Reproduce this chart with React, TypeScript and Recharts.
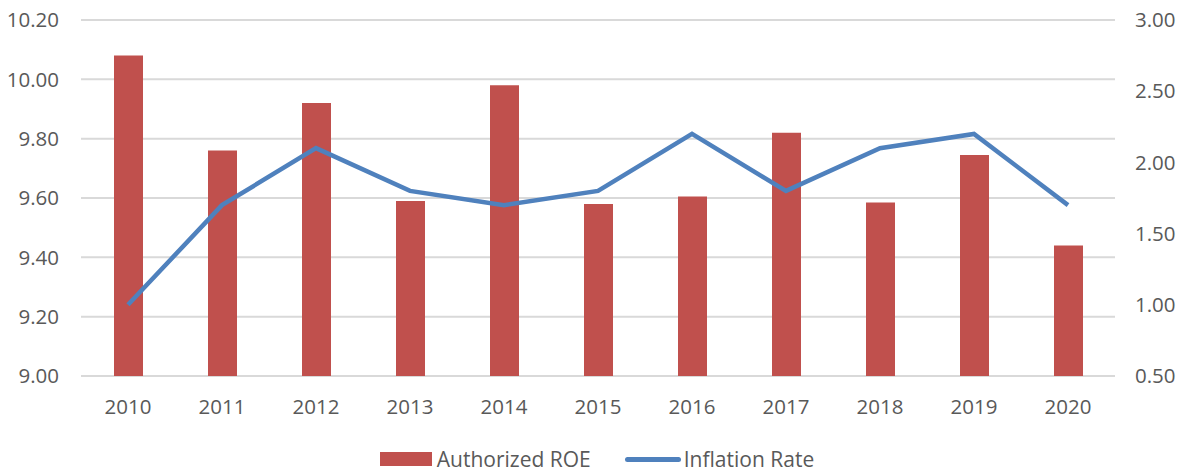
import React from 'react';
import { ComposedChart, Bar, Line, XAxis, YAxis, CartesianGrid, Legend } from 'recharts';

const years = ['2010', '2011', '2012', '2013', '2014', '2015', '2016', '2017', '2018', '2019', '2020'];
const authorizedROE = [10.08, 9.76, 9.92, 9.59, 9.98, 9.58, 9.605, 9.82, 9.585, 9.745, 9.44];
const inflationRate = [1.0, 1.7, 2.1, 1.8, 1.7, 1.8, 2.2, 1.8, 2.1, 2.2, 1.7];
const leftTicks = [9.0, 9.2, 9.4, 9.6, 9.8, 10.0, 10.2];
const rightTicks = [0.5, 1.0, 1.5, 2.0, 2.5, 3.0];

const data = years.map((y, i) => ({ year: y, roe: authorizedROE[i], inflation: inflationRate[i] }));

const FONT = '"Open Sans", sans-serif';
const TEXT = '#595959';
const BAR = '#C0504D';
const LINE = '#4F81BD';
const FS = 20.5;

const LegendContent = () => (
  <div style={{ height: 47, display: 'flex', justifyContent: 'center', alignItems: 'flex-end', fontFamily: FONT, fontSize: 21, color: TEXT }}>
    <div style={{ display: 'flex', alignItems: 'center', marginBottom: 0, marginLeft: 6 }}>
      <div style={{ width: 52, height: 14, background: BAR, marginRight: 5 }} />
      <span>Authorized ROE</span>
      <div style={{ width: 56, height: 5, borderRadius: 3, background: LINE, marginLeft: 34, marginRight: 3 }} />
      <span>Inflation Rate</span>
    </div>
  </div>
);

export default function App() {
  return (
    <div style={{ width: 1188, height: 473, margin: '-8px -8px 0 -8px' }}>
      <ComposedChart width={1188} height={473} data={data} margin={{ top: 20, right: 0, left: 0, bottom: 0 }}>
        <CartesianGrid vertical={false} stroke="#D9D9D9" strokeWidth={2} yAxisId="left" />
        <XAxis
          dataKey="year"
          axisLine={false}
          tickLine={false}
          tickSize={0}
          tickMargin={23}
          height={50}
          tick={{ fill: TEXT, fontSize: FS, fontFamily: FONT }}
          interval={0}
        />
        <YAxis
          yAxisId="left"
          orientation="left"
          domain={[9, 10.2]}
          ticks={leftTicks}
          tickFormatter={(v: number) => v.toFixed(2)}
          axisLine={false}
          tickLine={false}
          tickSize={0}
          tickMargin={22}
          width={81}
          allowDataOverflow
          tick={{ fill: TEXT, fontSize: FS, fontFamily: FONT }}
        />
        <YAxis
          yAxisId="right"
          orientation="right"
          domain={[0.5, 3]}
          ticks={rightTicks}
          tickFormatter={(v: number) => v.toFixed(2)}
          axisLine={false}
          tickLine={false}
          tickSize={0}
          tickMargin={20}
          width={73}
          tick={{ fill: TEXT, fontSize: FS, fontFamily: FONT, textAnchor: 'start' }}
        />
        <Legend verticalAlign="bottom" height={47} content={<LegendContent />} />
        <Bar yAxisId="left" dataKey="roe" name="Authorized ROE" fill={BAR} barSize={29} isAnimationActive={false} />
        <Line
          yAxisId="right"
          dataKey="inflation"
          name="Inflation Rate"
          stroke={LINE}
          strokeWidth={4.5}
          dot={false}
          activeDot={false}
          type="linear"
          isAnimationActive={false}
        />
      </ComposedChart>
    </div>
  );
}
